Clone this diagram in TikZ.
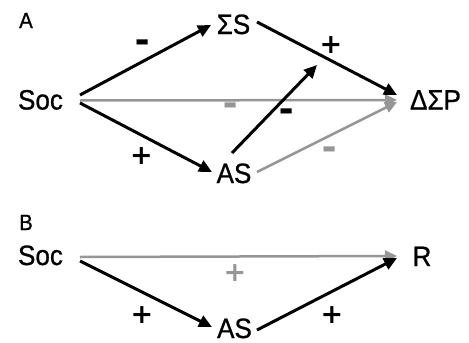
\documentclass[tikz,border=0pt]{standalone}
\usepackage{fontspec}
\usepackage{graphicx}
\setmainfont{Liberation Sans}[FakeStretch=0.93,FakeBold=0.8]
\newfontfamily\signfont{DejaVu Sans}
\usetikzlibrary{arrows.meta,calc}
\definecolor{lg}{RGB}{150,150,150}
\newcommand{\mysub}{\scalebox{1.05}[1.5]{–}}
\tikzset{
  lbl/.style={anchor=base, inner sep=0pt, font=\fontsize{28}{30}\selectfont},
  panel/.style={anchor=base, inner sep=0pt, font=\fontsize{22}{24}\selectfont},
  sgn/.style={inner sep=0pt, font=\signfont\bfseries\fontsize{27}{29}\selectfont},
  gsgn/.style={sgn, text=lg},
  blk/.style={line width=3pt, -{Triangle[length=13pt,width=12pt]}},
  gry/.style={color=lg, line width=2.5pt, -{Triangle[length=12pt,width=11pt]}},
}
\begin{document}
\begin{tikzpicture}[x=1pt,y=-1pt]
\useasboundingbox (0,0) rectangle (469,343);
% panel A
\node[panel] (labA) at (26,28) {A};
\node[lbl] (SS) at (233.5,34) {ΣS};
\node[lbl] (SocA) at (40.5,109.5) {Soc};
\node[lbl] (DSP) at (435.5,109.5) {ΔΣP};
\node[lbl] (ASa) at (234,183) {AS};
\coordinate (mid) at (317,65);
\draw[gry] ($(SocA.base)+(39.5,-9)$) -- ($(DSP.base)+(-38.5,-9.5)$);
\draw[gry] ($(ASa.base)+(23,-11)$) -- ($(DSP.base)+(-38.5,-7.5)$);
\draw[blk] ($(SocA.base)+(39.5,-14.5)$) -- ($(SS.base)+(-22.5,-9)$);
\draw[blk] ($(SS.base)+(23.5,-12)$) -- ($(DSP.base)+(-38.5,-14.5)$);
\draw[blk] ($(SocA.base)+(39.5,-6.5)$) -- ($(ASa.base)+(-22,-11)$);
\draw[blk] ($(ASa.base)+(-2,-30)$) -- (mid);
\node[sgn] (s1) at (143,47) {\mysub};
\node[sgn] (s2) at (331,45.5) {+};
\node[gsgn] (s3) at (231,109.5) {\mysub};
\node[sgn] (s4) at (287,116) {\mysub};
\node[sgn] (s5) at (141.5,156.5) {+};
\node[gsgn] (s6) at (330,154) {\mysub};
% panel B
\node[panel] (labB) at (26,230) {B};
\node[lbl] (SocB) at (40.5,265) {Soc};
\node[lbl] (R) at (422,266) {R};
\node[lbl] (ASb) at (234.5,338) {AS};
\draw[gry] ($(SocB.base)+(39.5,-8)$) -- ($(R.base)+(-25,-10)$);
\draw[blk] ($(SocB.base)+(39.5,-4)$) -- ($(ASb.base)+(-22.5,-11)$);
\draw[blk] ($(ASb.base)+(22.5,-8)$) -- ($(R.base)+(-25,-8)$);
\node[gsgn] (s7) at (235,273.5) {+};
\node[sgn] (s8) at (142,315) {+};
\node[sgn] (s9) at (332,315) {+};
\end{tikzpicture}
\end{document}
